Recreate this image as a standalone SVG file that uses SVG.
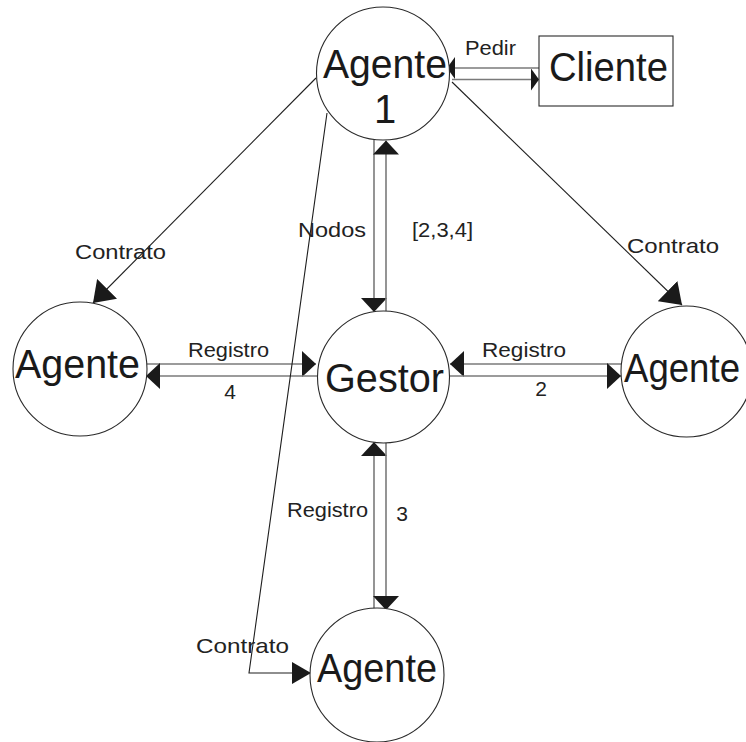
<svg xmlns="http://www.w3.org/2000/svg" width="746" height="742" viewBox="0 0 746 742">
  <style>
    .node { fill: #ffffff; stroke: #2a2a2a; stroke-width: 1.1; }
    .big { font-family: "Liberation Sans", Arial, sans-serif; font-size: 40px; fill: #1a1a1a; }
    .lbl { font-family: "Liberation Sans", Arial, sans-serif; font-size: 21px; fill: #222222; }
    .flow { fill: none; stroke: #7a7a7a; stroke-width: 1.6; }
    .contract { fill: none; stroke: #1e1e1e; stroke-width: 1.1; }
  </style>
  <defs>
    <marker id="arrowBig" viewBox="0 0 14 26" refX="14" refY="13" markerWidth="14" markerHeight="26" markerUnits="userSpaceOnUse" orient="auto">
      <path d="M0,0 L14,13 L0,26 Z" fill="#1a1a1a"/>
    </marker>
    <marker id="arrowSmall" viewBox="0 0 8 22" refX="8" refY="11" markerWidth="8" markerHeight="22" markerUnits="userSpaceOnUse" orient="auto">
      <path d="M0,0 L8,11 L0,22 Z" fill="#1a1a1a"/>
    </marker>
    <marker id="arrowDiag" viewBox="0 0 20 28" refX="20" refY="14" markerWidth="20" markerHeight="28" markerUnits="userSpaceOnUse" orient="auto">
      <path d="M0,0 L20,14 L0,28 Z" fill="#1a1a1a"/>
    </marker>
    <marker id="arrowFlat" viewBox="0 0 19 22" refX="19" refY="11" markerWidth="19" markerHeight="22" markerUnits="userSpaceOnUse" orient="auto">
      <path d="M0,0 L19,11 L0,22 Z" fill="#1a1a1a"/>
    </marker>
  </defs>

  <!-- connectors -->
  <g id="connectors">
    <!-- Agente 1 / Cliente -->
    <line class="flow" x1="539" y1="68" x2="447" y2="68" marker-end="url(#arrowSmall)"/>
    <line class="flow" x1="452" y1="79.5" x2="539" y2="79.5" marker-end="url(#arrowSmall)"/>
    <!-- Agente 1 / Gestor -->
    <line class="flow" x1="374" y1="139.5" x2="374" y2="312" marker-end="url(#arrowBig)"/>
    <line class="flow" x1="386" y1="311" x2="386" y2="140.5" marker-end="url(#arrowBig)"/>
    <!-- left Agente / Gestor -->
    <line class="flow" x1="147" y1="364" x2="316" y2="364" marker-end="url(#arrowBig)"/>
    <line class="flow" x1="318" y1="376" x2="146" y2="376" marker-end="url(#arrowBig)"/>
    <!-- Gestor / right Agente -->
    <line class="flow" x1="621.5" y1="364" x2="450" y2="364" marker-end="url(#arrowBig)"/>
    <line class="flow" x1="449" y1="376" x2="621" y2="376" marker-end="url(#arrowBig)"/>
    <!-- Gestor / bottom Agente -->
    <line class="flow" x1="374" y1="609" x2="374" y2="442" marker-end="url(#arrowBig)"/>
    <line class="flow" x1="386" y1="443" x2="386" y2="610" marker-end="url(#arrowBig)"/>
    <!-- Contrato links from Agente 1 -->
    <line class="contract" x1="316" y1="78" x2="93" y2="303" marker-end="url(#arrowDiag)"/>
    <line class="contract" x1="452" y1="82" x2="682" y2="305" marker-end="url(#arrowDiag)"/>
    <polyline class="contract" points="327,113 249,673 311,673" marker-end="url(#arrowFlat)"/>
  </g>

  <!-- connector labels -->
  <g id="labels">
    <text class="lbl" x="465" y="55" textLength="51" lengthAdjust="spacingAndGlyphs">Pedir</text>
    <text class="lbl" x="298" y="237" textLength="68" lengthAdjust="spacingAndGlyphs">Nodos</text>
    <text class="lbl" x="412" y="237" textLength="61" lengthAdjust="spacingAndGlyphs">[2,3,4]</text>
    <text class="lbl" x="75" y="259" textLength="91" lengthAdjust="spacingAndGlyphs">Contrato</text>
    <text class="lbl" x="627" y="253" textLength="92" lengthAdjust="spacingAndGlyphs">Contrato</text>
    <text class="lbl" x="188" y="357" textLength="81" lengthAdjust="spacingAndGlyphs">Registro</text>
    <text class="lbl" x="230" y="399" text-anchor="middle">4</text>
    <text class="lbl" x="482" y="357" textLength="84" lengthAdjust="spacingAndGlyphs">Registro</text>
    <text class="lbl" x="541" y="396" text-anchor="middle">2</text>
    <text class="lbl" x="287" y="517" textLength="81" lengthAdjust="spacingAndGlyphs">Registro</text>
    <text class="lbl" x="402" y="521" text-anchor="middle">3</text>
    <text class="lbl" x="196" y="653" textLength="93" lengthAdjust="spacingAndGlyphs">Contrato</text>
  </g>

  <!-- nodes -->
  <g id="agente1">
    <circle class="node" cx="383" cy="73.5" r="66.5"/>
    <text class="big" x="323" y="78" font-size="42" textLength="124" lengthAdjust="spacingAndGlyphs">Agente</text>
    <text class="big" x="385" y="123" font-size="42" text-anchor="middle">1</text>
  </g>
  <g id="cliente">
    <rect class="node" x="539" y="36" width="134" height="70"/>
    <text class="big" x="549" y="81" font-size="42" textLength="119" lengthAdjust="spacingAndGlyphs">Cliente</text>
  </g>
  <g id="gestor">
    <circle class="node" cx="383.5" cy="377" r="66"/>
    <text class="big" x="325" y="392" textLength="119" lengthAdjust="spacingAndGlyphs">Gestor</text>
  </g>
  <g id="agente-izq">
    <circle class="node" cx="80" cy="369" r="67"/>
    <text class="big" x="15" y="378" textLength="125" lengthAdjust="spacingAndGlyphs">Agente</text>
  </g>
  <g id="agente-der">
    <circle class="node" cx="686.5" cy="371.5" r="65.5"/>
    <text class="big" x="624" y="382" textLength="116" lengthAdjust="spacingAndGlyphs">Agente</text>
  </g>
  <g id="agente-inf">
    <circle class="node" cx="377" cy="675" r="67"/>
    <text class="big" x="317" y="682" textLength="120" lengthAdjust="spacingAndGlyphs">Agente</text>
  </g>
</svg>
